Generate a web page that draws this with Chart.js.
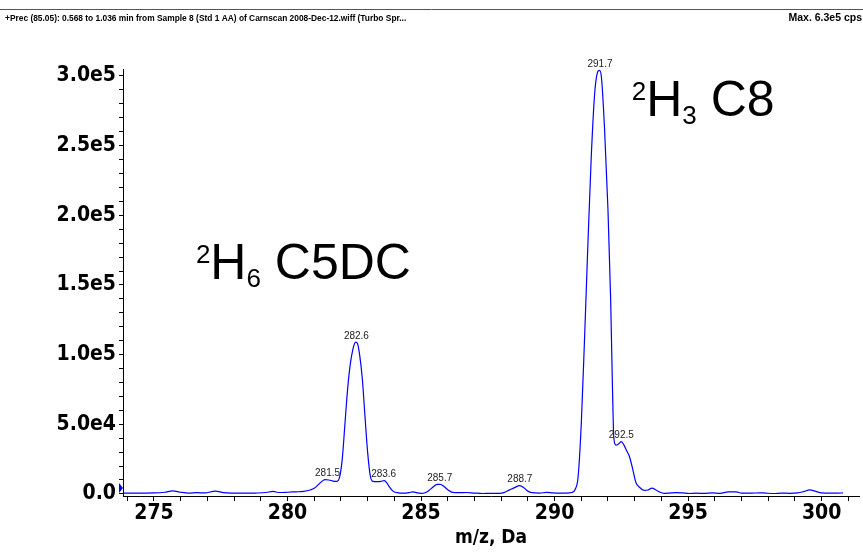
<!DOCTYPE html>
<html><head><meta charset="utf-8">
<script src="https://cdn.jsdelivr.net/npm/chart.js@4/dist/chart.umd.min.js"></script>
<style>html,body{margin:0;padding:0;background:#fff}#wrap{width:863px;height:555px;position:relative}</style>
</head><body><div id="wrap"><canvas id="c" width="863" height="555"></canvas></div>
<script>
// ---- data ----
const mz = [273.85,274.2,274.6,275.0,275.4,275.7,276.0,276.3,276.6,276.9,277.3,277.6,278.0,278.4,278.8,279.2,279.45,279.7,280.0,280.3,280.6,280.85,281.0,281.2,281.4,281.55,281.7,281.85,281.95,282.05,282.15,282.25,282.35,282.45,282.55,282.62,282.7,282.8,282.9,283.0,283.1,283.2,283.35,283.5,283.62,283.72,283.8,283.95,284.1,284.35,284.55,284.7,284.85,285.0,285.15,285.3,285.45,285.6,285.72,285.85,286.0,286.15,286.4,286.7,287.0,287.3,287.6,287.95,288.1,288.3,288.5,288.7,288.85,289.0,289.15,289.45,289.7,289.9,290.1,290.4,290.65,290.78,290.88,291.0,291.12,291.25,291.37,291.5,291.6,291.68,291.75,291.87,292.0,292.1,292.17,292.22,292.3,292.4,292.5,292.6,292.7,292.81,292.93,293.05,293.18,293.35,293.5,293.65,293.8,293.95,294.1,294.3,294.55,294.8,295.05,295.3,295.6,295.9,296.2,296.5,296.8,297.0,297.3,297.7,297.9,298.2,298.5,298.8,299.1,299.35,299.55,299.75,300.0,300.3,300.6,300.8];
const intensity = [600,500,600,700,1200,2200,1200,600,900,700,2000,900,600,500,600,1000,1800,1000,1200,1500,1800,2800,4000,7500,10200,10000,9200,9000,12000,25000,50000,75000,93000,104000,109000,108000,100000,83000,56000,30000,13000,9000,8800,9000,9500,8000,5500,2000,900,500,900,1500,800,400,800,2500,5000,6800,6900,5500,3000,1300,900,1000,600,300,400,400,900,2700,4500,6000,4500,2000,900,600,1100,800,500,600,1000,3500,12000,50000,110000,180000,240000,287000,302000,304000,300000,263000,204000,140000,75000,40000,35000,36000,37500,35000,31000,26500,17500,8000,4800,2600,2800,4200,2800,1200,400,600,900,700,300,500,400,700,400,1400,1400,600,500,800,600,300,600,400,700,1800,2900,2000,700,500,600,700];
const xTickValues = [274,275,276,277,278,279,280,281,282,283,284,285,286,287,288,289,290,291,292,293,294,295,296,297,298,299,300,301];
const xLabelValues = [275,280,285,290,295,300];
const yTickValues = [0,10000,20000,30000,40000,50000,60000,70000,80000,90000,100000,110000,120000,130000,140000,150000,160000,170000,180000,190000,200000,210000,220000,230000,240000,250000,260000,270000,280000,290000,300000];
const yLabelValues = [0,50000,100000,150000,200000,250000,300000];
const peakLabels = ['281.5','282.6','283.6','285.7','288.7','291.7','292.5'];
const peakMz = [281.5,282.58,283.6,285.7,288.7,291.7,292.5];
const peakHeight = [10200,109000,9500,6900,6000,304000,37500];
const headerLeft = '+Prec (85.05): 0.568 to 1.036 min from Sample 8 (Std 1 AA) of Carnscan 2008-Dec-12.wiff (Turbo Spr...';
const headerRight = 'Max. 6.3e5 cps';
const xTitle = 'm/z, Da';
// annotations: [superscript, main, subscript, rest]
const annoParts = [['2','H','6',' C5DC'],['2','H','3',' C8']];
const annoMz = [276.57, 292.89];
const annoY = [154000, 271000];

const NARROW = "'Liberation Sans Narrow','Arial Narrow','DejaVu Sans Condensed',sans-serif";
const ARIAL = "'Liberation Sans',Arial,sans-serif";

const overlay = {
  id:'overlay',
  afterDraw(chart){
    const ctx = chart.ctx, xs = chart.scales.x, ys = chart.scales.y, ca = chart.chartArea;
    ctx.save();
    // header
    ctx.strokeStyle = '#555'; ctx.lineWidth = 1;
    ctx.beginPath(); ctx.moveTo(0, 9.5); ctx.lineTo(863, 9.5); ctx.stroke();
    ctx.fillStyle = '#000';
    ctx.textBaseline = 'alphabetic';
    ctx.font = "bold 8.4px " + ARIAL;
    ctx.textAlign = 'left'; ctx.fillText(headerLeft, 5, 21);
    ctx.font = "bold 10.5px " + ARIAL;
    ctx.textAlign = 'right'; ctx.fillText(headerRight, 862, 21);
    // peak labels
    ctx.font = "10px " + ARIAL; ctx.fillStyle = '#222'; ctx.textAlign = 'center';
    ctx.textBaseline = 'bottom';
    for (let i = 0; i < peakLabels.length; i++) {
      ctx.fillText(peakLabels[i], xs.getPixelForValue(peakMz[i]), ys.getPixelForValue(peakHeight[i]) - 1);
    }
    // annotations
    ctx.fillStyle = '#000'; ctx.textAlign = 'left'; ctx.textBaseline = 'alphabetic';
    for (let i = 0; i < annoParts.length; i++) {
      let x = xs.getPixelForValue(annoMz[i]);
      const y = ys.getPixelForValue(annoY[i]);
      const p = annoParts[i];
      ctx.font = "26px " + ARIAL; ctx.fillText(p[0], x, y - 16); x += ctx.measureText(p[0]).width;
      ctx.font = "50px " + ARIAL; ctx.fillText(p[1], x, y); x += ctx.measureText(p[1]).width;
      ctx.font = "26px " + ARIAL; ctx.fillText(p[2], x, y + 8); x += ctx.measureText(p[2]).width;
      ctx.font = "50px " + ARIAL; ctx.fillText(p[3], x, y);
    }
    // precursor marker
    const y0 = ys.getPixelForValue(4300);
    ctx.fillStyle = '#0000ff';
    ctx.beginPath(); ctx.moveTo(ca.left - 4, y0 - 5); ctx.lineTo(ca.left, y0); ctx.lineTo(ca.left - 4, y0 + 5); ctx.closePath(); ctx.fill();
    ctx.restore();
  }
};

new Chart(document.getElementById('c'), {
  type: 'line',
  data: { datasets: [{
    data: mz.map((m, i) => ({x: m, y: intensity[i]})),
    borderColor: '#0000ff', borderWidth: 1.2, pointRadius: 0, fill: false,
    cubicInterpolationMode: 'monotone'
  }]},
  options: {
    responsive: false, animation: false, devicePixelRatio: 1,
    layout: { padding: { top: 69, right: 4, left: 0, bottom: 0 } },
    plugins: { legend: { display: false }, tooltip: { enabled: false } },
    scales: {
      x: {
        type: 'linear', min: 273.84, max: 301.4,
        afterBuildTicks: a => { a.ticks = xTickValues.map(v => ({value: v})); },
        afterFit: s => { s.height = 59; },
        grid: { drawOnChartArea: false, color: '#000', tickLength: 5, tickColor: '#000' },
        border: { color: '#000', width: 1 },
        ticks: { autoSkip: false, maxRotation: 0, padding: 0, color: '#000',
          font: { family: NARROW, size: 21, weight: 'bold' },
          callback: v => xLabelValues.includes(v) ? String(v) : '' },
        title: { display: true, text: xTitle, color: '#000', padding: {top: 0, bottom: 6},
          font: { family: NARROW, size: 19, weight: 'bold' } }
      },
      y: {
        min: -1500, max: 305000,
        afterBuildTicks: a => { a.ticks = yTickValues.map(v => ({value: v})); },
        afterFit: s => { s.width = 123; },
        grid: { drawOnChartArea: false, tickLength: 4, tickColor: '#000' },
        border: { color: '#000', width: 1 },
        ticks: { autoSkip: false, padding: 3, color: '#000',
          font: { family: NARROW, size: 21, weight: 'bold' },
          callback: v => yLabelValues.includes(v) ? (v === 0 ? '0.0' : v.toExponential(1).replace('e+', 'e')) : '' }
      }
    }
  },
  plugins: [overlay]
});
</script>
</body></html>
